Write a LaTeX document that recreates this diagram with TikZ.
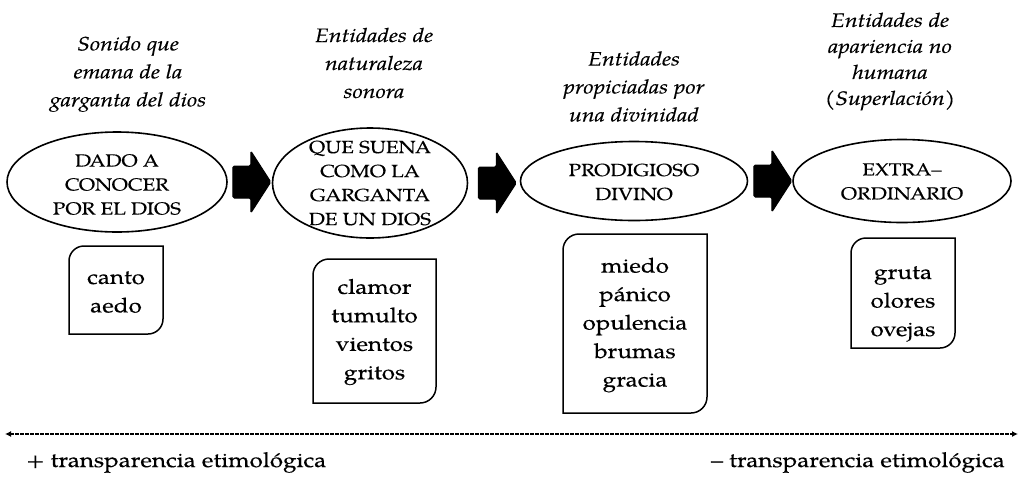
\documentclass[tikz,border=0pt]{standalone}
\usepackage{fontspec}
\setmainfont{TeX Gyre Pagella}[FakeStretch=1.18,FakeBold=0.3]
\usetikzlibrary{shapes.geometric,arrows.meta,calc}
\newcommand\leafbox[2]{\draw[line width=1.5pt] ([yshift=-#2pt]#1.north west) arc[start angle=180,end angle=90,radius=#2pt] -- (#1.north east) -- ([yshift=#2pt]#1.south east) arc[start angle=0,end angle=-90,radius=#2pt] -- (#1.south west) -- cycle;}
\newcommand\blockarrow[1]{\draw[blk] (#1) ++(0,-16) -- ++(18,0) -- ++(0,-15) -- ++(20,31) -- ++(-20,31) -- ++(0,-15) -- ++(-18,0) -- cycle;}
\begin{document}
\begin{tikzpicture}[x=1pt,y=-1pt,
  ell/.style={ellipse,draw,line width=1.6pt,inner sep=0pt},
  etext/.style={align=center,inner sep=0pt,font=\fontsize{17.5}{24}\selectfont},
  btext/.style={align=center,inner sep=0pt,font=\fontsize{20.5}{28.5}\selectfont},
  head/.style={align=center,inner sep=0pt,font=\fontsize{19.5}{28}\selectfont\itshape},
  boxnode/.style={inner sep=0pt,outer sep=0pt},
  blk/.style={fill=black,draw=black,line width=1pt,rounded corners=1.5pt},
  foot/.style={inner sep=0pt,font=\fontsize{20.5}{24}\selectfont}]
\useasboundingbox (0,0) rectangle (1022,477);

% headers
\node[head] (h1) at (128,74) {Sonido que\\emana de la\\garganta del dios};
\node[head] (h2) at (374,63) {Entidades de\\naturaleza\\sonora};
\node[head] (h3) at (634,86.5) {Entidades\\propiciadas por\\una divinidad};
\node[head,font=\fontsize{19.5}{26}\selectfont\itshape] (h4) at (890,61.5) {Entidades de\\apariencia no\\humana\\(Superlación)};

% ellipses
\node[ell,minimum width=220,minimum height=100] (e1) at (117,182) {};
\node[ell,minimum width=195,minimum height=110] (e2) at (370,183) {};
\node[ell,minimum width=227,minimum height=79] (e3) at (634,181) {};
\node[ell,minimum width=218,minimum height=83] (e4) at (902,181) {};
\node[etext] (t1) at (117,184.5) {DADO A\\CONOCER\\POR EL DIOS};
\node[etext] (t2) at (370,183) {QUE SUENA\\COMO LA\\GARGANTA\\DE UN DIOS};
\node[etext] (t3) at (634,182) {PRODIGIOSO\\DIVINO};
\node[etext] (t4) at (902,181.5) {EXTRA–\\ORDINARIO};

% block arrows
\coordinate (a1) at ([xshift=5pt]e1.east);
\coordinate (a2) at ([xshift=10pt]e2.east);
\coordinate (a3) at ([xshift=5.5pt]e3.east);
\blockarrow{a1}
\blockarrow{a2}
\blockarrow{a3}

% boxes
\node[boxnode,minimum width=94,minimum height=88] (b1) at (116,290) {};
\node[boxnode,minimum width=123,minimum height=144] (b2) at (374.5,331) {};
\node[boxnode,minimum width=144,minimum height=179] (b3) at (635,323.5) {};
\node[boxnode,minimum width=104,minimum height=110] (b4) at (903,293) {};
\leafbox{b1}{15}
\leafbox{b2}{16}
\leafbox{b3}{16}
\leafbox{b4}{15}
\node[btext] (w1) at (116,292) {canto\\aedo};
\node[btext] (w2) at (374.5,332) {clamor\\tumulto\\vientos\\gritos};
\node[btext] (w3) at (635,325) {miedo\\pánico\\opulencia\\brumas\\gracia};
\node[btext] (w4) at (903,304) {gruta\\olores\\ovejas};

% scale line
\coordinate (L) at (5,434);
\coordinate (R) at (1018,434);
\draw[line width=1.6pt,dash pattern=on 3.5pt off 1.5pt,{Latex[length=6pt,width=6pt]}-{Latex[length=6pt,width=6pt]}] (L) -- (R);
\node[foot,anchor=base west] (lp) at (26,467) {+ transparencia etimológica};
\node[foot,anchor=base east] (lm) at (1005,467) {– transparencia etimológica};
\end{tikzpicture}
\end{document}
